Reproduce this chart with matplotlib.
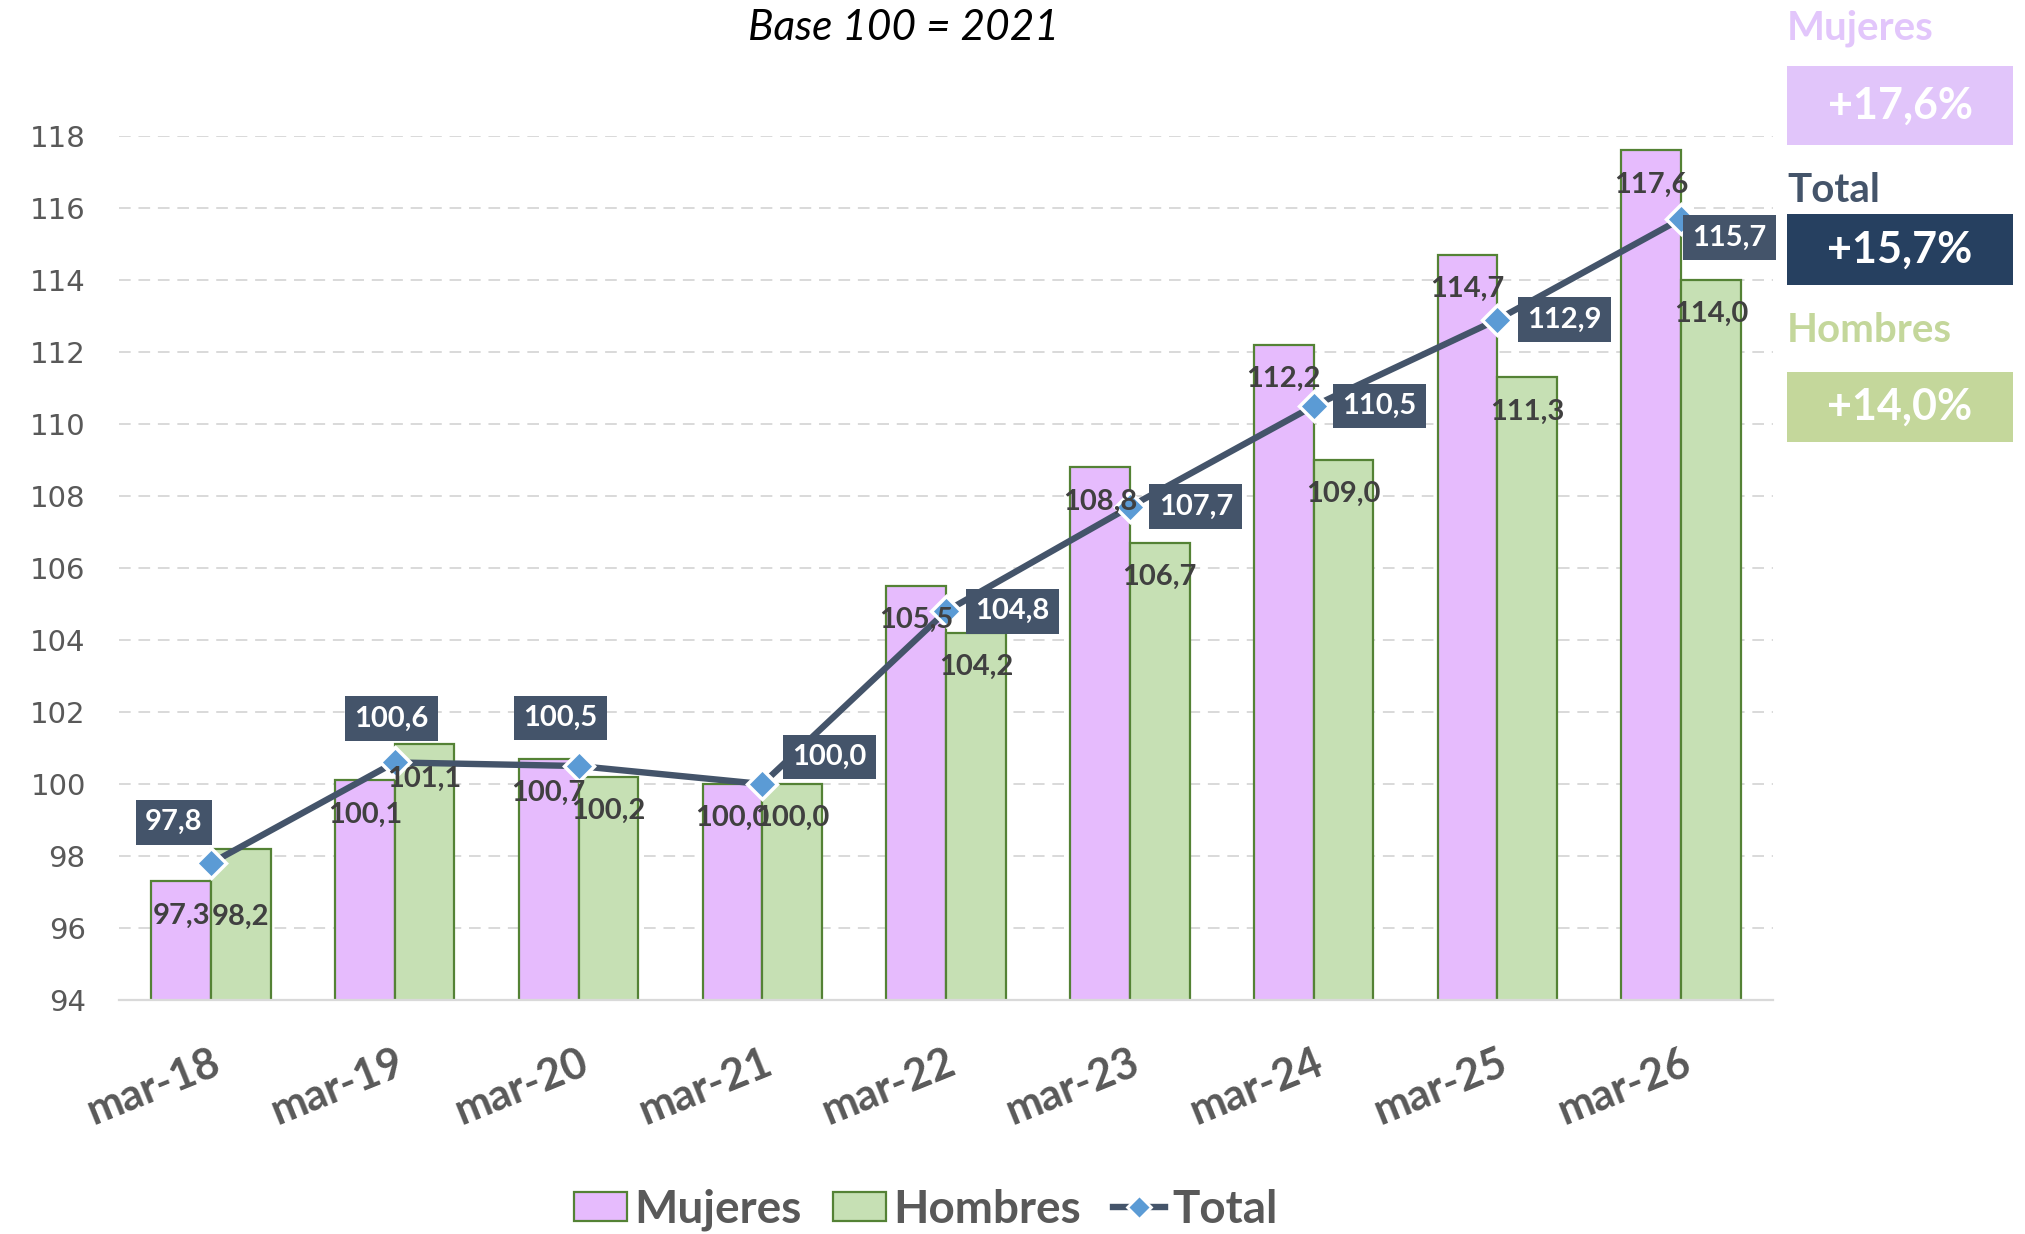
import matplotlib

matplotlib.use("Agg")
import matplotlib.pyplot as plt
import numpy as np
from matplotlib.lines import Line2D
from matplotlib.patches import Patch

# data (base 100 = 2021)
categories = ["mar-18", "mar-19", "mar-20", "mar-21", "mar-22", "mar-23", "mar-24", "mar-25", "mar-26"]
mujeres = [97.3, 100.1, 100.7, 100.0, 105.5, 108.8, 112.2, 114.7, 117.6]
hombres = [98.2, 101.1, 100.2, 100.0, 104.2, 106.7, 109.0, 111.3, 114.0]
total = [97.8, 100.6, 100.5, 100.0, 104.8, 107.7, 110.5, 112.9, 115.7]
y_ticks = list(range(94, 119, 2))
growth_labels = ["Mujeres", "Total", "Hombres"]
growth_values = ["+17,6%", "+15,7%", "+14,0%"]

C_MUJ = "#E6BBFD"
C_HOM = "#C6E0B4"
C_EDGE = "#548235"
C_LINE = "#44546A"
C_MARK = "#5B9BD5"
C_TEXT = "#404040"
C_TICK = "#595959"


def fmt(v: float) -> str:
    return f"{v:.1f}".replace(".", ",")


def main() -> None:
    plt.rcParams["font.family"] = ["Lato", "DejaVu Sans"]
    fig = plt.figure(figsize=(20.25, 12.34), dpi=100)
    ax = fig.add_axes([0.0588, 0.1896, 0.8168, 0.7002])

    x = np.arange(len(categories))
    w = 0.325
    ax.bar(x - w / 2, mujeres, w, bottom=0, color=C_MUJ, edgecolor=C_EDGE, linewidth=1.6, zorder=2)
    ax.bar(x + w / 2, hombres, w, bottom=0, color=C_HOM, edgecolor=C_EDGE, linewidth=1.6, zorder=2)
    ax.plot(x, total, color=C_LINE, lw=4.6, marker="D", markersize=15,
            markerfacecolor=C_MARK, markeredgecolor="white", markeredgewidth=2.5, zorder=4)

    ax.set_xlim(-0.5, len(categories) - 0.5)
    ax.set_ylim(94, 118)
    ax.set_yticks(y_ticks)
    ax.set_yticklabels([str(t) for t in y_ticks], family="DejaVu Sans", fontsize=21, color=C_TICK)
    ax.set_xticks(x)
    ax.set_xticklabels(categories, rotation=22, ha="right", rotation_mode="anchor",
                       fontsize=31, fontweight="bold", color=C_TICK)
    ax.tick_params(axis="y", length=0, pad=24)
    ax.tick_params(axis="x", length=0, pad=30)

    ax.grid(axis="y", color="#D9D9D9", linestyle=(0, (6, 4)), linewidth=1.4, zorder=0)
    for side in ("top", "right", "left"):
        ax.spines[side].set_visible(False)
    ax.spines["bottom"].set_color("#D9D9D9")
    ax.spines["bottom"].set_linewidth(1.6)

    # bar value labels (inside end)
    for i, v in enumerate(mujeres):
        ax.text(x[i] - w / 2, v - 0.95, fmt(v), ha="center", va="center",
                fontsize=21, fontweight="bold", color=C_TEXT, zorder=5)
    for i, v in enumerate(hombres):
        dy = 1.9 if i == 0 else 0.95
        ax.text(x[i] + w / 2, v - dy, fmt(v), ha="center", va="center",
                fontsize=21, fontweight="bold", color=C_TEXT, zorder=5)

    # total labels in dark boxes
    offsets = [(-37, 41), (-3, 44), (-18, 48), (67, 27), (66, 0), (66, 0), (66, 0), (67, 0), (48, -19)]
    for i, v in enumerate(total):
        ax.annotate(fmt(v), (x[i], v), xytext=offsets[i], textcoords="offset pixels",
                    ha="center", va="center", fontsize=21, fontweight="bold", color="white",
                    bbox=dict(boxstyle="square,pad=0.32", fc=C_LINE, ec="none"), zorder=6)

    fig.text(904 / 2025, 1 - 28 / 1234, "Base 100 = 2021", ha="center", va="center",
             fontsize=30.5, style="italic", color="black")

    # growth panel on the right
    head_colors = ["#E2C6FB", C_LINE, "#C4D79B"]
    box_colors = ["#E1C5FA", "#264060", "#C4D79B"]
    head_y = [28, 191, 331]
    box_y = [(66, 145), (214, 285), (372, 442)]
    for lab, val, hc, bc, hy, (b0, b1) in zip(growth_labels, growth_values, head_colors,
                                              box_colors, head_y, box_y):
        fig.text(1787 / 2025, 1 - hy / 1234, lab, ha="left", va="center",
                 fontsize=29, fontweight="bold", color=hc)
        fig.patches.append(plt.Rectangle((1787 / 2025, 1 - b1 / 1234), 226 / 2025, (b1 - b0) / 1234,
                                         transform=fig.transFigure, fc=bc, ec="none"))
        fig.text(1900 / 2025, 1 - (b0 + b1) / 2 / 1234, val, ha="center", va="center",
                 fontsize=31, fontweight="bold", color="white")

    handles = [
        Patch(facecolor=C_MUJ, edgecolor=C_EDGE, linewidth=1.6, label="Mujeres"),
        Patch(facecolor=C_HOM, edgecolor=C_EDGE, linewidth=1.6, label="Hombres"),
        Line2D([], [], color=C_LINE, lw=4.6, marker="D", markersize=12,
               markerfacecolor=C_MARK, markeredgecolor="white", markeredgewidth=2, label="Total"),
    ]
    leg = fig.legend(handles=handles, loc="center", bbox_to_anchor=(926 / 2025, 1 - 1210 / 1234),
                     ncol=3, frameon=False, handlelength=1.15, handleheight=0.6,
                     handletextpad=0.15, columnspacing=0.7, prop={"size": 33, "weight": "bold"})
    for t in leg.get_texts():
        t.set_color(C_TICK)

    fig.savefig("out.png", dpi=100, facecolor="white")
    plt.close(fig)


if __name__ == "__main__":
    main()
